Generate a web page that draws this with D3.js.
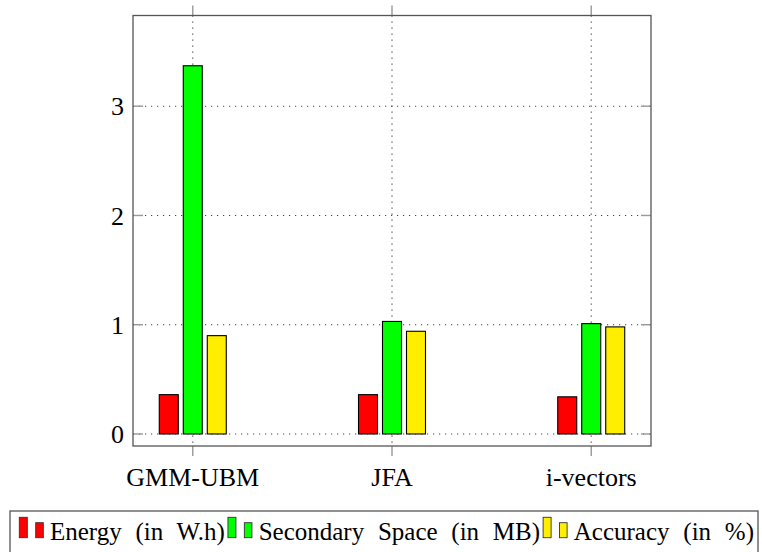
<!DOCTYPE html>
<html>
<head>
<meta charset="utf-8">
<title>Energy, space and accuracy</title>
<style>
  body { margin: 0; background: #fff; }
</style>
</head>
<body>
<svg width="762" height="552"></svg>
<script src="https://d3js.org/d3.v7.min.js"></script>
<script>

var categories = ["GMM-UBM", "JFA", "i-vectors"];
var energy = [0.36, 0.36, 0.34];
var space = [3.37, 1.03, 1.01];
var accuracy = [0.90, 0.94, 0.98];
var yTicks = [0, 1, 2, 3];
var seriesNames = ["Energy (in W.h)", "Secondary Space (in MB)", "Accuracy (in %)"];

var series = [
    { name: seriesNames[0], values: energy, color: "#ff0000" },
    { name: seriesNames[1], values: space, color: "#00ff00" },
    { name: seriesNames[2], values: accuracy, color: "#ffee00" }
];

var serif = "Liberation Serif";

var svg = d3.select("svg"),
    plotLeft = 133, plotRight = 651, plotTop = 15.5, plotBottom = 446;

var x = d3.scaleLinear().domain([-0.3, categories.length - 1 + 0.3]).range([plotLeft, plotRight]);
var y = d3.scaleLinear().domain([-0.11, 3.83]).range([plotBottom, plotTop]);

var barWidth = 19, barShift = 24, tickLen = 10;

// grid (dotted)
var grid = svg.append("g")
    .attr("stroke", "#444")
    .attr("stroke-width", 1.1)
    .attr("stroke-dasharray", "1.2,4.8");

grid.selectAll(".hgrid").data(yTicks).enter().append("line")
    .attr("x1", plotLeft).attr("x2", plotRight)
    .attr("y1", function (d) { return y(d); })
    .attr("y2", function (d) { return y(d); });

grid.selectAll(".vgrid").data(categories).enter().append("line")
    .attr("y1", plotTop).attr("y2", plotBottom)
    .attr("x1", function (d, i) { return x(i); })
    .attr("x2", function (d, i) { return x(i); });

// bars
series.forEach(function (s, k) {
    svg.append("g").selectAll("rect")
        .data(s.values)
        .enter().append("rect")
        .attr("x", function (d, i) { return x(i) + (k - 1) * barShift - barWidth / 2; })
        .attr("y", function (d) { return y(d); })
        .attr("width", barWidth)
        .attr("height", function (d) { return y(0) - y(d); })
        .attr("fill", s.color)
        .attr("stroke", "#000")
        .attr("stroke-width", 1.1);
});

// ticks
var ticks = svg.append("g").attr("stroke", "#999").attr("stroke-width", 1.4);

categories.forEach(function (c, i) {
    ticks.append("line").attr("x1", x(i)).attr("x2", x(i)).attr("y1", plotBottom).attr("y2", plotBottom + tickLen);
    ticks.append("line").attr("x1", x(i)).attr("x2", x(i)).attr("y1", plotTop).attr("y2", plotTop - tickLen);
});
yTicks.forEach(function (t) {
    ticks.append("line").attr("x1", plotLeft).attr("x2", plotLeft + tickLen).attr("y1", y(t)).attr("y2", y(t));
    ticks.append("line").attr("x1", plotRight).attr("x2", plotRight - tickLen).attr("y1", y(t)).attr("y2", y(t));
});

// axis box
svg.append("rect")
    .attr("x", plotLeft).attr("y", plotTop)
    .attr("width", plotRight - plotLeft).attr("height", plotBottom - plotTop)
    .attr("fill", "none")
    .attr("stroke", "#555")
    .attr("stroke-width", 1.3);

// tick labels
svg.append("g").selectAll("text")
    .data(categories)
    .enter().append("text")
    .attr("x", function (d, i) { return x(i); })
    .attr("y", 486)
    .attr("text-anchor", "middle")
    .attr("font-family", serif)
    .attr("font-size", 26)
    .text(function (d) { return d; });

svg.append("g").selectAll("text")
    .data(yTicks)
    .enter().append("text")
    .attr("x", 124)
    .attr("y", function (d) { return y(d); })
    .attr("dy", "0.35em")
    .attr("text-anchor", "end")
    .attr("font-family", serif)
    .attr("font-size", 26)
    .text(function (d) { return d; });

// legend
var legend = svg.append("g");
legend.append("rect")
    .attr("x", 10).attr("y", 511)
    .attr("width", 748).attr("height", 60)
    .attr("fill", "#fff")
    .attr("stroke", "#555")
    .attr("stroke-width", 1.3);

var lx = 19.3;
series.forEach(function (s) {
    legend.append("rect")
        .attr("x", lx).attr("y", 517.3)
        .attr("width", 8).attr("height", 20.4)
        .attr("fill", s.color).attr("stroke", "#333").attr("stroke-width", 0.9);
    legend.append("rect")
        .attr("x", lx + 16.4).attr("y", 522.7)
        .attr("width", 7.6).attr("height", 15)
        .attr("fill", s.color).attr("stroke", "#333").attr("stroke-width", 0.9);
    var t = legend.append("text")
        .attr("x", lx + 30.7)
        .attr("y", 540)
        .attr("font-family", serif)
        .attr("font-size", 25)
        .style("word-spacing", "7.5px")
        .text(s.name);
    lx = lx + 30.7 + t.node().getComputedTextLength() + 3;
});

</script>
</body>
</html>
